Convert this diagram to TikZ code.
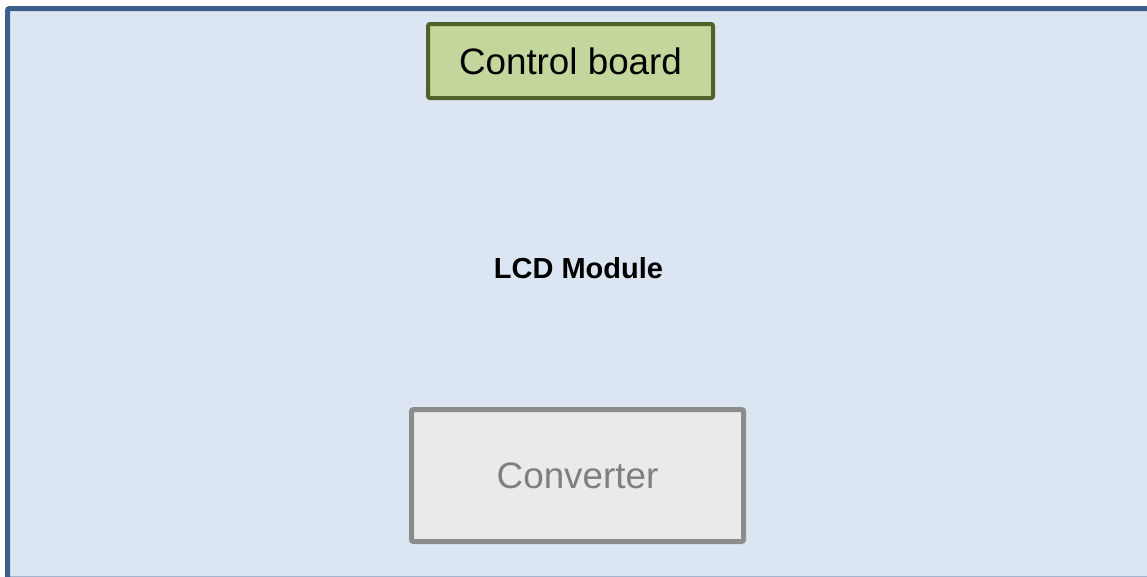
\documentclass[tikz,border=0pt]{standalone}
\usepackage{fontspec}
\setmainfont{Liberation Sans}
\definecolor{frameblue}{HTML}{3B5F8C}
\definecolor{panelblue}{HTML}{DCE6F2}
\definecolor{boardgreen}{HTML}{C3D69B}
\definecolor{boardedge}{HTML}{4F6228}
\definecolor{convfill}{HTML}{EAEAEA}
\definecolor{convedge}{HTML}{8C8C8C}
\definecolor{convtext}{HTML}{7F7F7F}

\begin{document}
\begin{tikzpicture}[x=1pt,y=-1pt,
	board/.style={draw=boardedge,fill=boardgreen,line width=4pt,rounded corners=2pt,
		minimum width=285pt,minimum height=74pt,font=\fontsize{36.8}{40}\selectfont},
	conv/.style={draw=convedge,fill=convfill,line width=5pt,rounded corners=2pt,text=convtext,
		minimum width=332pt,minimum height=132pt,font=\fontsize{36.8}{40}\selectfont}]
	\path[use as bounding box,clip] (0,0) rectangle (1147,576);
	\draw[frameblue,fill=panelblue,line width=5pt,rounded corners=2pt] (7.5,8.5) rectangle (1149.5,579);
	\node[board] (ctrl) at (570.5,61) {Control board};
	\node[font=\fontsize{29}{32}\selectfont\bfseries] (lcd) at (578.5,268) {LCD Module};
	\node[conv] (conv) at (577.5,475.5) {Converter};
\end{tikzpicture}
\end{document}
